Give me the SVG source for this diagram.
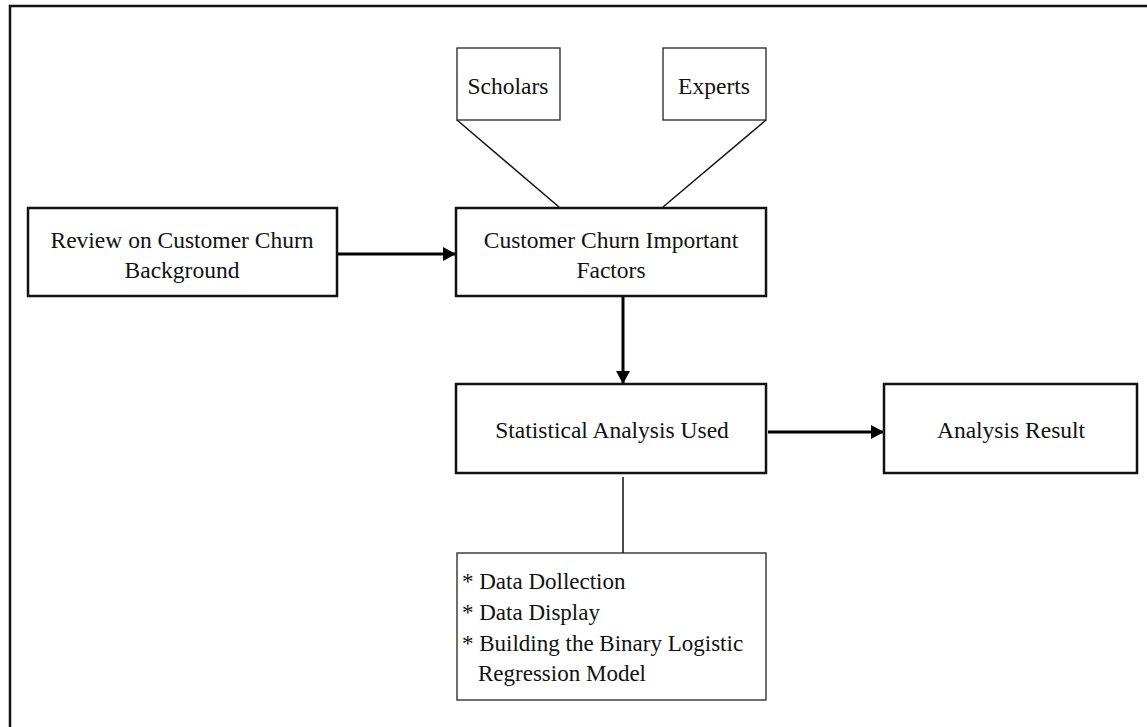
<svg xmlns="http://www.w3.org/2000/svg" width="1147" height="727" viewBox="0 0 1147 727">
<style>
.bx{fill:#fff;stroke:#111;stroke-width:2.5}
.tb{fill:#fff;stroke:#222;stroke-width:1.3}
.t{font-family:"Liberation Serif","Times New Roman",serif;font-size:23.5px;fill:#111;text-anchor:middle}
.tl{font-family:"Liberation Serif","Times New Roman",serif;font-size:23px;fill:#111}
.ar{stroke:#000;stroke-width:3;fill:none}
.ln{stroke:#111;stroke-width:1.5;fill:none}
</style>
<defs>
<marker id="ah" markerWidth="13" markerHeight="14" refX="13" refY="7" orient="auto" markerUnits="userSpaceOnUse">
<path d="M0,0 L13,7 L0,14 Z" fill="#000"/>
</marker>
</defs>
<rect width="1147" height="727" fill="#fff"/>
<g id="frame"><path d="M10,727 V6 H1147" fill="none" stroke="#111" stroke-width="2.5"/></g>
<g id="connectors">
<path class="ar" d="M337,254 H456" marker-end="url(#ah)"/>
<path class="ar" d="M623,296 V384" marker-end="url(#ah)"/>
<path class="ar" d="M768,432 H884" marker-end="url(#ah)"/>
<path class="ln" d="M457,120 L559,207"/>
<path class="ln" d="M766,120 L663,207"/>
<path class="ln" d="M623,477 V553"/>
</g>
<g id="review"><rect class="bx" x="28" y="208" width="309" height="88"/>
<text class="t" x="182" y="248">Review on Customer Churn</text>
<text class="t" x="182" y="278">Background</text></g>
<g id="scholars"><rect class="tb" x="457" y="48" width="103" height="72"/>
<text class="t" x="508" y="94">Scholars</text></g>
<g id="experts"><rect class="tb" x="663" y="48" width="103" height="72"/>
<text class="t" x="714" y="94">Experts</text></g>
<g id="factors"><rect class="bx" x="456" y="208" width="310" height="88"/>
<text class="t" x="611" y="248">Customer Churn Important</text>
<text class="t" x="611" y="278">Factors</text></g>
<g id="statistical"><rect class="bx" x="456" y="384" width="310" height="89"/>
<text class="t" x="612" y="438">Statistical Analysis Used</text></g>
<g id="result"><rect class="bx" x="884" y="384" width="253" height="89"/>
<text class="t" x="1011" y="438">Analysis Result</text></g>
<g id="steps"><rect class="tb" x="457" y="553" width="309" height="147"/>
<text class="tl" x="462" y="589">* Data Dollection</text>
<text class="tl" x="462" y="620">* Data Display</text>
<text class="tl" x="462" y="651">* Building the Binary Logistic</text>
<text class="tl" x="478" y="681">Regression Model</text></g>
</svg>
